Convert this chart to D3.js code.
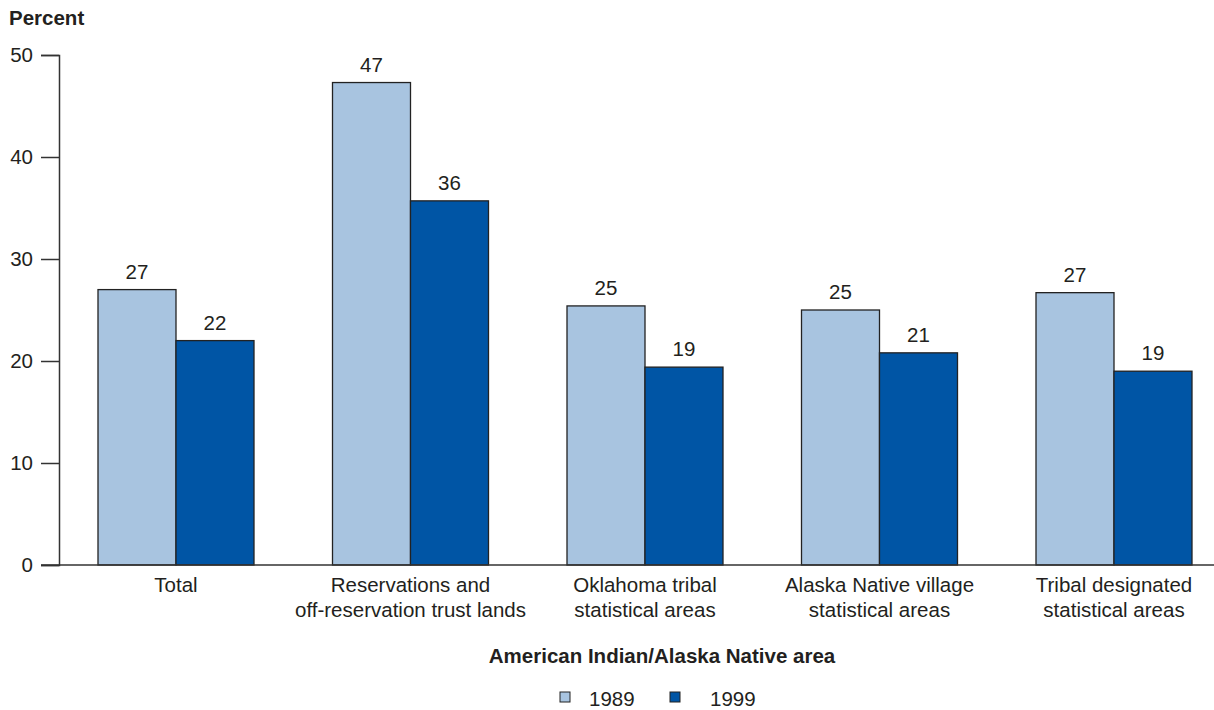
<!DOCTYPE html>
<html><head><meta charset="utf-8">
<script src="https://cdn.jsdelivr.net/npm/d3@7"></script>
<style>
body{margin:0;background:#fff;}
svg text{font-family:"Liberation Sans",Arial,Helvetica,sans-serif;fill:#231f20;}
</style></head>
<body>
<svg id="chart" width="1214" height="710"></svg>
<script>
const categories = [
  ["Total"],
  ["Reservations and", "off-reservation trust lands"],
  ["Oklahoma tribal", "statistical areas"],
  ["Alaska Native village", "statistical areas"],
  ["Tribal designated", "statistical areas"]
];
const seriesNames = ["1989", "1999"];
const values1989 = [27.0, 47.3, 25.4, 25.0, 26.7];
const values1999 = [22.0, 35.7, 19.4, 20.8, 19.0];
const labels1989 = ["27", "47", "25", "25", "27"];
const labels1999 = ["22", "36", "19", "21", "19"];
const yTicks = [0, 10, 20, 30, 40, 50];
const colors = ["#a8c4e0", "#0055a5"];

const svg = d3.select("#chart");
const fs = 20.5;
const x0 = 59, xEnd = 1214;
const y = d3.scaleLinear().domain([0, 50]).range([565, 55]);
const idx = d3.range(categories.length);
const pIn = 78.5 / 234.5;
const x = d3.scaleBand().domain(idx).range([58.75, 1231.25]).paddingInner(pIn).paddingOuter(pIn / 2);
const xs = d3.scaleBand().domain([0, 1]).range([0, x.bandwidth()]);

// y axis
const yAxis = d3.axisLeft(y).tickValues(yTicks).tickSize(18).tickPadding(8);
const ga = svg.append("g").attr("transform", `translate(${x0},0)`).call(yAxis);
ga.select(".domain").attr("stroke", "#333").attr("stroke-width", 1.5);
ga.selectAll(".tick line").attr("stroke", "#333").attr("stroke-width", 1.5);
ga.selectAll(".tick text").attr("font-size", fs).attr("fill", "#231f20")
  .attr("font-family", "Liberation Sans, Arial, sans-serif");

svg.append("text").attr("x", 9).attr("y", 25).attr("font-size", fs).attr("font-weight", "bold").text("Percent");

// bars
const series = [values1989, values1999];
const labs = [labels1989, labels1999];
series.forEach((vals, s) => {
  svg.append("g").selectAll("rect").data(vals).join("rect")
    .attr("x", (d, i) => x(i) + xs(s))
    .attr("y", d => y(d))
    .attr("width", xs.bandwidth())
    .attr("height", d => y(0) - y(d))
    .attr("fill", colors[s])
    .attr("stroke", "#222").attr("stroke-width", 1.3);
  svg.append("g").selectAll("text").data(vals).join("text")
    .attr("x", (d, i) => x(i) + xs(s) + xs.bandwidth() / 2)
    .attr("y", d => y(d) - 11)
    .attr("text-anchor", "middle").attr("font-size", fs)
    .text((d, i) => labs[s][i]);
});

// x axis line
svg.append("line").attr("x1", x0).attr("x2", xEnd).attr("y1", y(0)).attr("y2", y(0))
  .attr("stroke", "#333").attr("stroke-width", 1.5);
svg.append("line").attr("x1", 41).attr("x2", x0).attr("y1", y(0)).attr("y2", y(0))
  .attr("stroke", "#333").attr("stroke-width", 1.5);

// category labels
const cl = svg.append("g").selectAll("text").data(categories).join("text")
  .attr("text-anchor", "middle").attr("font-size", fs)
  .attr("x", (d, i) => x(i) + x.bandwidth() / 2).attr("y", 592);
cl.selectAll("tspan").data(d => d).join("tspan")
  .attr("x", function () { return d3.select(this.parentNode).attr("x"); })
  .attr("dy", (d, j) => j === 0 ? 0 : 25)
  .text(d => d);

svg.append("text").attr("x", 662).attr("y", 663).attr("text-anchor", "middle")
  .attr("font-size", fs).attr("font-weight", "bold").text("American Indian/Alaska Native area");

// legend
const legX = [560, 670];
seriesNames.forEach((n, s) => {
  svg.append("rect").attr("x", legX[s]).attr("y", 692).attr("width", 10).attr("height", 10)
    .attr("fill", colors[s]).attr("stroke", "#222").attr("stroke-width", 1);
  svg.append("text").attr("x", legX[s] + 29 + (s === 1 ? 11 : 0)).attr("y", 706).attr("font-size", fs).text(n);
});
</script>
</body></html>
